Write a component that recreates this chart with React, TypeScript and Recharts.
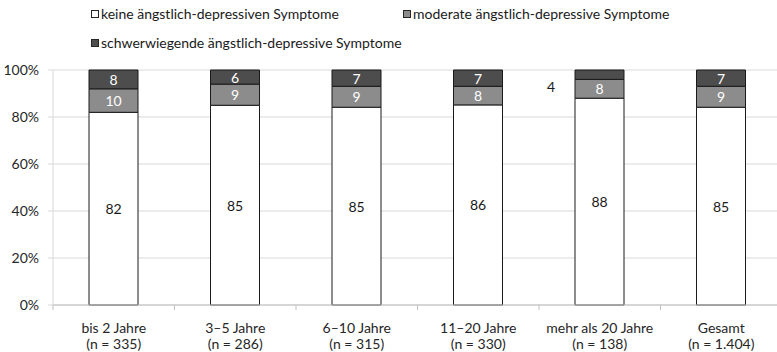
import React from 'react';
import { BarChart, Bar, XAxis, YAxis, CartesianGrid, LabelList } from 'recharts';

const categories = ['bis 2 Jahre', '3–5 Jahre', '6–10 Jahre', '11–20 Jahre', 'mehr als 20 Jahre', 'Gesamt'];
const sampleSizes = ['(n = 335)', '(n = 286)', '(n = 315)', '(n = 330)', '(n = 138)', '(n = 1.404)'];
const keineValues = [82, 85, 85, 86, 88, 85];
const moderatValues = [10, 9, 9, 8, 8, 9];
const schwerValues = [8, 6, 7, 7, 4, 7];
const yTicks = [0, 0.2, 0.4, 0.6, 0.8, 1];
const seriesNames = [
  'keine ängstlich-depressiven Symptome',
  'moderate ängstlich-depressive Symptome',
  'schwerwiegende ängstlich-depressive Symptome',
];
const seriesColors = ['#ffffff', '#8c8c8c', '#4d4d4d'];

const data = categories.map((c, i) => ({
  name: c,
  n: sampleSizes[i],
  keine: keineValues[i],
  moderat: moderatValues[i],
  schwer: schwerValues[i],
}));

const FONT = 'Lato, "Open Sans", sans-serif';
const FS = 14;
const BAND = 121.5;

const makeLabel = (color: string) => (props: any) => {
  const vb = props.viewBox || {};
  const x = props.x ?? vb.x;
  const y = props.y ?? vb.y;
  const width = props.width ?? vb.width;
  const height = props.height ?? vb.height;
  const cx = x + width / 2;
  const cy = y + height / 2;
  if (Math.abs(height) < 14) {
    return (
      <text x={cx - 48.5} y={cy + 12} textAnchor="middle" dominantBaseline="central" fill="#1a1a1a" fontFamily={FONT} fontSize={FS}>
        {props.value}
      </text>
    );
  }
  return (
    <text x={cx} y={cy} textAnchor="middle" dominantBaseline="central" fill={color} fontFamily={FONT} fontSize={FS}>
      {props.value}
    </text>
  );
};

const XTick = (props: any) => {
  const { x, y, index } = props;
  const half = BAND / 2;
  const i = index ?? 0;
  return (
    <g>
      <line x1={x - half} x2={x - half} y1={y} y2={y + 5} stroke="#bfbfbf" />
      {i === categories.length - 1 && <line x1={x + half} x2={x + half} y1={y} y2={y + 5} stroke="#bfbfbf" />}
      <text x={x} y={y + 22} textAnchor="middle" dominantBaseline="central" fill="#262626" fontFamily={FONT} fontSize={FS}>
        {categories[i]}
      </text>
      <text x={x} y={y + 38} textAnchor="middle" dominantBaseline="central" fill="#262626" fontFamily={FONT} fontSize={FS}>
        {sampleSizes[i]}
      </text>
    </g>
  );
};

const LegendItem = ({ left, top, color, label }: { left: number; top: number; color: string; label: string }) => (
  <div style={{ position: 'absolute', left, top, display: 'flex', alignItems: 'center', height: 18 }}>
    <div style={{ width: 6, height: 6, border: '1px solid #262626', background: color, marginRight: 2 }} />
    <span style={{ fontFamily: FONT, fontSize: FS, color: '#1a1a1a', whiteSpace: 'nowrap', lineHeight: '18px' }}>{label}</span>
  </div>
);

export default function App() {
  return (
    <div style={{ position: 'absolute', left: 0, top: 0, width: 777, height: 352, overflow: 'hidden', background: '#fff' }}>
      <LegendItem left={91} top={5} color={seriesColors[0]} label={seriesNames[0]} />
      <LegendItem left={403} top={5} color={seriesColors[1]} label={seriesNames[1]} />
      <LegendItem left={91} top={34} color={seriesColors[2]} label={seriesNames[2]} />
      <div style={{ position: 'absolute', left: 0, top: 0 }}>
        <BarChart
          width={782}
          height={352}
          data={data}
          stackOffset="expand"
          margin={{ top: 70, right: 0, bottom: 0, left: 0 }}
        >
          <CartesianGrid vertical={false} stroke="#d9d9d9" />
          <XAxis
            dataKey="name"
            height={47}
            tickLine={false}
            tickSize={0}
            tickMargin={0}
            axisLine={{ stroke: '#bfbfbf' }}
            interval={0}
            tick={<XTick />}
          />
          <YAxis
            width={53}
            ticks={yTicks}
            domain={[0, 1]}
            tickFormatter={(v: number) => `${Math.round(v * 100)}%`}
            tickSize={5}
            tickMargin={9}
            tickLine={{ stroke: '#d9d9d9' }}
            axisLine={{ stroke: '#d9d9d9' }}
            tick={{ fill: '#262626', fontFamily: FONT, fontSize: FS }}
          />
          <Bar dataKey="keine" stackId="a" fill={seriesColors[0]} stroke="#1a1a1a" strokeWidth={1} barSize={49} isAnimationActive={false}>
            <LabelList dataKey="keine" content={makeLabel('#1a1a1a')} />
          </Bar>
          <Bar dataKey="moderat" stackId="a" fill={seriesColors[1]} stroke="#1a1a1a" strokeWidth={1} barSize={49} isAnimationActive={false}>
            <LabelList dataKey="moderat" content={makeLabel('#ffffff')} />
          </Bar>
          <Bar dataKey="schwer" stackId="a" fill={seriesColors[2]} stroke="#1a1a1a" strokeWidth={1} barSize={49} isAnimationActive={false}>
            <LabelList dataKey="schwer" content={makeLabel('#ffffff')} />
          </Bar>
        </BarChart>
      </div>
    </div>
  );
}
